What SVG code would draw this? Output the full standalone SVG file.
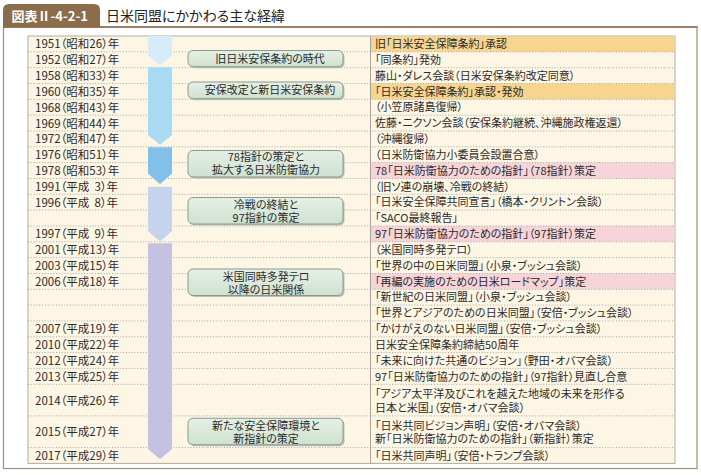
<svg xmlns="http://www.w3.org/2000/svg" width="701" height="475" viewBox="0 0 701 475">
<defs>
<linearGradient id="boxfill" x1="0" y1="0" x2="0" y2="1">
<stop offset="0" stop-color="#e5f0e5"/>
<stop offset="1" stop-color="#cfe1d1"/>
</linearGradient>
</defs>
<style>
text{font-family:"Noto Sans CJK JP","Noto Sans",sans-serif;font-feature-settings:"palt";fill:#2b2b2b}
.yr{font-size:11.5px}
.ev{font-size:11px}
.bt{font-size:11px;text-anchor:middle}
.box rect{fill:url(#boxfill);stroke:#8a998b;stroke-width:1}
.box .sh{fill:#b9c2b9;stroke:none}
.sep{stroke:#9c9c9c;stroke-width:0.9;stroke-dasharray:1 1.8;fill:none}
.hlo{fill:#f8d58f}
.hlp{fill:#f6d4da}
</style>
<rect width="701" height="475" fill="#ffffff"/>
<g id="header">
<rect x="3.5" y="27" width="693.5" height="441.5" fill="#ffffff" stroke="#a28e7a" stroke-width="1.2"/>
<line x1="3" y1="27" x2="697.5" y2="27" stroke="#8b6d4c" stroke-width="1.6"/>
<path d="M3,27.5 V10 Q3,4 9,4 H94 Q100,4 100,10 V27.5 Z" fill="#8b6d4c"/>
<text x="11.5" y="20.5" style="font-size:13px;font-weight:bold;fill:#ffffff">図表Ⅱ-4-2-1</text>
<text x="106" y="20.8" style="font-size:14px;fill:#222">日米同盟にかかわる主な経緯</text>
</g>
<g id="table">
<rect x="28" y="36" width="647" height="427.4" fill="#fdf6e4" stroke="#b3aba0" stroke-width="1"/>
<rect class="hlo" x="370.5" y="36.5" width="304" height="15.3"/>
<rect class="hlo" x="370.5" y="83.5" width="304" height="15.8"/>
<rect class="hlp" x="370.5" y="162.6" width="304" height="15.9"/>
<rect class="hlp" x="370.5" y="226" width="304" height="15.8"/>
<rect class="hlp" x="370.5" y="273.5" width="304" height="15.8"/>
<line x1="370.5" y1="36" x2="370.5" y2="463.4" stroke="#a8a29a" stroke-width="1"/>
</g>
<g id="separators">
<path class="sep" d="M28,51.8H675M28,67.7H675M28,83.5H675M28,99.3H675M28,115.2H675M28,131H675M28,146.8H675M28,162.6H675M28,178.5H675M28,194.3H675M28,210.1H675M28,226H675M28,241.8H675M28,257.6H675M28,273.5H675M28,289.3H675M28,305.1H675M28,320.9H675M28,336.8H675M28,352.6H675M28,368.4H675M28,384.3H675M28,415.9H675M28,447.6H675"/>
</g>
<g id="timeline">
<path id="seg-1" d="M148,36 H172 V55.5 L160,65.5 L148,55.5 Z" fill="#d6ecf8"/>
<path id="seg-2" d="M148,67.2 H172 V135 L160,144.8 L148,135 Z" fill="#a8daf3"/>
<path id="seg-3" d="M148,147.3 H172 V173.5 L160,184.3 L148,173.5 Z" fill="#82c0e9"/>
<path id="seg-4" d="M148,186.7 H172 V231 L160,241.5 L148,231 Z" fill="#c6d3ed"/>
<path id="seg-5" d="M148,243.3 H172 V449 L160,459.3 L148,449 Z" fill="#c4c1e1"/>
</g>
<g id="rows">
<g id="row-1951"><text class="yr" x="35" y="48.3">1951（昭和26）年</text><text class="ev" x="375" y="48.1">旧「日米安全保障条約」承認</text></g>
<g id="row-1952"><text class="yr" x="35" y="64.1">1952（昭和27）年</text><text class="ev" x="375" y="63.9">「同条約」発効</text></g>
<g id="row-1958"><text class="yr" x="35" y="80">1958（昭和33）年</text><text class="ev" x="375" y="79.8">藤山・ダレス会談（日米安保条約改定同意）</text></g>
<g id="row-1960"><text class="yr" x="35" y="95.8">1960（昭和35）年</text><text class="ev" x="375" y="95.6">「日米安全保障条約」承認・発効</text></g>
<g id="row-1968"><text class="yr" x="35" y="111.6">1968（昭和43）年</text><text class="ev" x="375" y="111.4">（小笠原諸島復帰）</text></g>
<g id="row-1969"><text class="yr" x="35" y="127.5">1969（昭和44）年</text><text class="ev" x="375" y="127.3">佐藤・ニクソン会談（安保条約継続、沖縄施政権返還）</text></g>
<g id="row-1972"><text class="yr" x="35" y="143.3">1972（昭和47）年</text><text class="ev" x="375" y="143.1">（沖縄復帰）</text></g>
<g id="row-1976"><text class="yr" x="35" y="159.1">1976（昭和51）年</text><text class="ev" x="375" y="158.9">（日米防衛協力小委員会設置合意）</text></g>
<g id="row-1978"><text class="yr" x="35" y="175">1978（昭和53）年</text><text class="ev" x="375" y="174.8">78「日米防衛協力のための指針」（78指針）策定</text></g>
<g id="row-1991"><text class="yr" x="35" y="190.8" xml:space="preserve">1991（平成  3）年</text><text class="ev" x="375" y="190.6">（旧ソ連の崩壊、冷戦の終結）</text></g>
<g id="row-1996"><text class="yr" x="35" y="206.6" xml:space="preserve">1996（平成  8）年</text><text class="ev" x="375" y="206.4">「日米安全保障共同宣言」（橋本・クリントン会談）</text></g>
<g id="row-1996b"><text class="ev" x="375" y="222.3">「SACO最終報告」</text></g>
<g id="row-1997"><text class="yr" x="35" y="238.3" xml:space="preserve">1997（平成  9）年</text><text class="ev" x="375" y="238.1">97「日米防衛協力のための指針」（97指針）策定</text></g>
<g id="row-2001"><text class="yr" x="35" y="254.1">2001（平成13）年</text><text class="ev" x="375" y="253.9">（米国同時多発テロ）</text></g>
<g id="row-2003"><text class="yr" x="35" y="270">2003（平成15）年</text><text class="ev" x="375" y="269.8">「世界の中の日米同盟」（小泉・ブッシュ会談）</text></g>
<g id="row-2006"><text class="yr" x="35" y="285.8">2006（平成18）年</text><text class="ev" x="375" y="285.6">「再編の実施のための日米ロードマップ」策定</text></g>
<g id="row-2006b"><text class="ev" x="375" y="301.4">「新世紀の日米同盟」（小泉・ブッシュ会談）</text></g>
<g id="row-2006c"><text class="ev" x="375" y="317.2">「世界とアジアのための日米同盟」（安倍・ブッシュ会談）</text></g>
<g id="row-2007"><text class="yr" x="35" y="333.3">2007（平成19）年</text><text class="ev" x="375" y="333.1">「かけがえのない日米同盟」（安倍・ブッシュ会談）</text></g>
<g id="row-2010"><text class="yr" x="35" y="349.1">2010（平成22）年</text><text class="ev" x="375" y="348.9">日米安全保障条約締結50周年</text></g>
<g id="row-2012"><text class="yr" x="35" y="364.9">2012（平成24）年</text><text class="ev" x="375" y="364.7">「未来に向けた共通のビジョン」（野田・オバマ会談）</text></g>
<g id="row-2013"><text class="yr" x="35" y="380.8">2013（平成25）年</text><text class="ev" x="375" y="380.6">97「日米防衛協力のための指針」（97指針）見直し合意</text></g>
<g id="row-2014"><text class="yr" x="35" y="405">2014（平成26）年</text><text class="ev" x="375" y="398.2">「アジア太平洋及びこれを越えた地域の未来を形作る<tspan x="375" dy="14.1">日本と米国」（安倍・オバマ会談）</tspan></text></g>
<g id="row-2015"><text class="yr" x="35" y="436">2015（平成27）年</text><text class="ev" x="375" y="430.4">「日米共同ビジョン声明」（安倍・オバマ会談）<tspan x="375" dy="12.9">新「日米防衛協力のための指針」（新指針）策定</tspan></text></g>
<g id="row-2017"><text class="yr" x="35" y="459.9">2017（平成29）年</text><text class="ev" x="375" y="459.6">「日米共同声明」（安倍・トランプ会談）</text></g>
</g>
<g id="period-1" class="box"><rect class="sh" x="189.5" y="52" width="155" height="16.2" rx="5"/><rect x="188" y="50.5" width="155" height="16.2" rx="5"/><text class="bt" x="270" y="62.7">旧日米安保条約の時代</text></g>
<g id="period-2" class="box"><rect class="sh" x="189.5" y="83.5" width="155" height="16.7" rx="5"/><rect x="188" y="82" width="155" height="16.7" rx="5"/><text class="bt" x="270" y="94.4">安保改定と新日米安保条約</text></g>
<g id="period-3" class="box"><rect class="sh" x="189.5" y="152" width="155" height="26.5" rx="5"/><rect x="188" y="150.5" width="155" height="26.5" rx="5"/><text class="bt" x="266" y="160.6">78指針の策定と<tspan x="266" dy="13">拡大する日米防衛協力</tspan></text></g>
<g id="period-4" class="box"><rect class="sh" x="189.5" y="199" width="155" height="26.5" rx="5"/><rect x="188" y="197.5" width="155" height="26.5" rx="5"/><text class="bt" x="266" y="208.5">冷戦の終結と<tspan x="266" dy="13">97指針の策定</tspan></text></g>
<g id="period-5" class="box"><rect class="sh" x="189.5" y="270.5" width="155" height="26.5" rx="5"/><rect x="188" y="269" width="155" height="26.5" rx="5"/><text class="bt" x="266" y="280.8">米国同時多発テロ<tspan x="266" dy="13">以降の日米関係</tspan></text></g>
<g id="period-6" class="box"><rect class="sh" x="189.5" y="419.8" width="155" height="26.5" rx="5"/><rect x="188" y="418.3" width="155" height="26.5" rx="5"/><text class="bt" x="266" y="430">新たな安全保障環境と<tspan x="266" dy="12.9">新指針の策定</tspan></text></g>
</svg>
